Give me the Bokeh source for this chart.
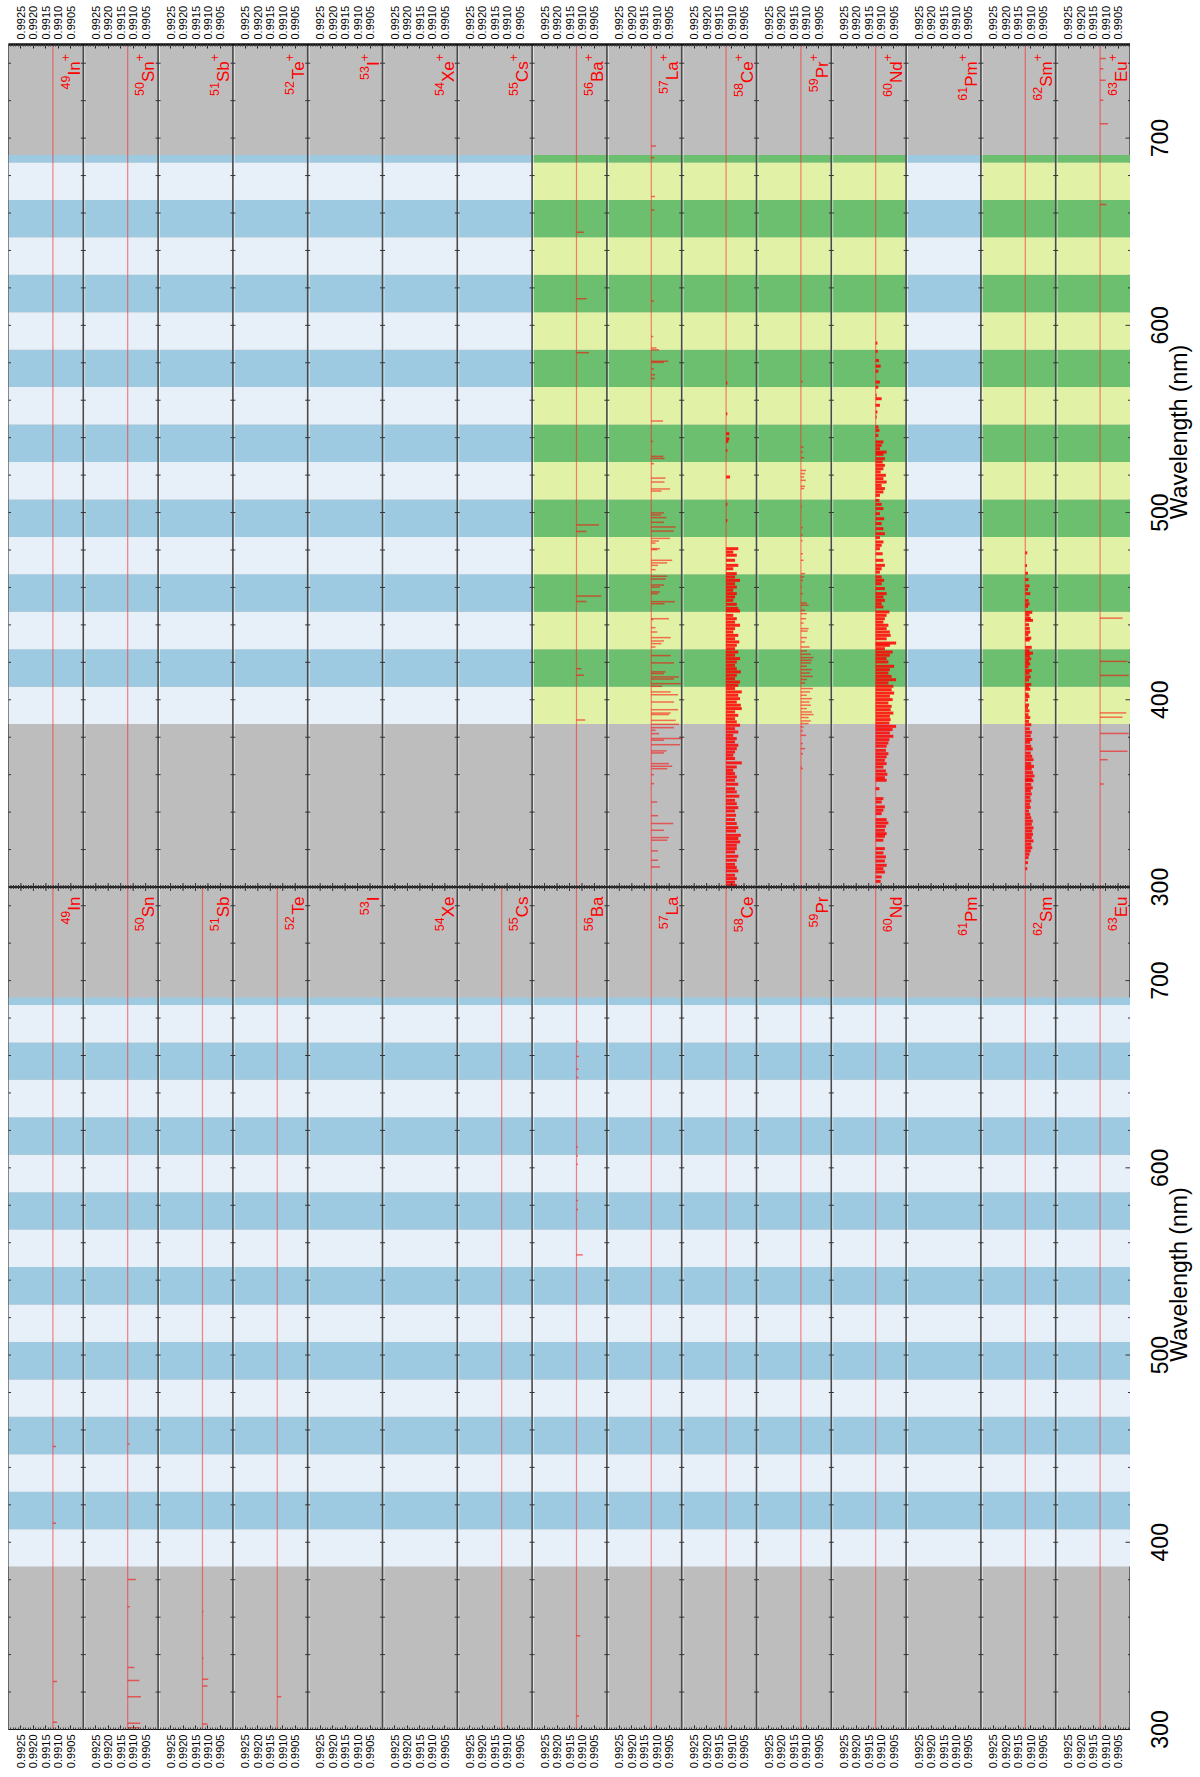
import math
from bokeh.plotting import figure
from bokeh.layouts import row
from bokeh.models import Range1d, FixedTicker, LinearAxis
from bokeh.core.properties import value
from bokeh.embed import file_html
from bokeh.resources import INLINE

FONT = "Liberation Sans"

# ---------------- data ----------------
symbols = ["In", "Sn", "Sb", "Te", "I", "Xe", "Cs", "Ba", "La", "Ce", "Pr", "Nd", "Pm", "Sm", "Eu"]
atomic_numbers = [49, 50, 51, 52, 53, 54, 55, 56, 57, 58, 59, 60, 61, 62, 63]
ion_green = [0, 0, 0, 0, 0, 0, 0, 1, 1, 1, 1, 1, 0, 1, 1]
ion_has_baseline = [1, 1, 0, 0, 0, 0, 0, 1, 1, 1, 1, 1, 0, 1, 1]
neutral_has_baseline = [1, 1, 1, 1, 0, 0, 1, 1, 1, 1, 1, 1, 0, 1, 1]
baseline_value = 0.99122
value_ticks = [0.9925, 0.9920, 0.9915, 0.9910, 0.9905]
value_left, value_right = 0.9930, 0.9900
wavelength_ticks = [300, 400, 500, 600, 700]
wavelength_min, wavelength_max = 300, 750
band_edges = [387, 407, 427, 447, 467, 487, 507, 527, 547, 567, 587, 607, 627, 647, 667, 687, 691]

# spectral lines: (wavelength nm, depth below baseline in units of 1e-4)
in_ion = []
sn_ion = []
ba_ion = [(649.7, 3.0), (614.2, 4.0), (585.4, 5.0), (493.4, 9.0), (489.9, 4.0), (455.4, 10.0),
          (452.5, 4.0), (416.6, 2.0), (413.1, 3.0), (389.2, 3.5)]
la_ion = [(695.8, 1.9), (689.5, 1.2), (668.8, 1.5), (661.6, 1.2), (613.0, 1.1), (594.0, 0.8), (587.9, 2.1),
          (586.9, 3.1), (580.8, 6.8), (580.2, 5.1), (576.7, 1.1), (573.6, 1.5), (571.6, 1.5), (548.9, 4.7),
          (538.0, 0.7), (530.0, 4.8), (528.9, 5.3), (526.1, 1.1), (518.4, 5.7), (516.3, 5.3), (512.6, 7.5),
          (511.5, 4.1), (499.8, 5.1), (498.7, 4.0), (497.3, 6.1), (494.8, 5.1), (492.3, 9.8), (490.1, 9.1),
          (486.2, 7.5), (484.8, 3.1), (483.7, 1.7), (480.7, 3.5), (480.2, 2.4), (474.5, 8.4), (473.1, 6.4),
          (471.8, 2.7), (469.5, 1.7), (466.0, 6.4), (464.5, 5.7), (461.3, 5.1), (460.2, 3.5), (457.6, 3.5),
          (456.7, 2.7), (452.4, 9.5), (451.3, 5.3), (443.3, 7.1), (442.8, 0.8), (438.5, 1.7), (436.2, 2.4),
          (433.2, 7.8), (431.4, 5.1), (430.0, 4.1), (428.2, 1.7), (423.6, 7.8), (419.7, 9.1), (414.9, 5.7),
          (414.0, 5.1), (412.2, 11.1), (411.1, 9.1), (408.6, 11.8), (407.2, 4.4), (404.2, 7.8), (402.7, 10.7),
          (398.8, 9.1), (394.7, 10.7), (392.9, 7.8), (392.1, 7.1), (389.0, 9.8), (386.9, 11.1), (385.1, 9.1),
          (383.7, 1.7), (381.9, 3.1), (379.3, 12.0), (378.4, 5.1), (376.0, 11.5), (372.7, 6.1), (371.6, 5.1),
          (365.9, 7.1), (364.5, 8.4), (363.2, 6.4), (360.0, 1.1), (355.2, 1.1), (345.4, 2.4), (338.1, 2.7),
          (333.9, 8.8), (330.3, 5.1), (326.4, 7.1), (325.0, 6.4), (319.3, 2.7), (314.3, 2.7), (310.7, 3.5)]
ce_ion = [(569.2, 0.5), (552.8, 0.5), (542.1, 1.3), (539.4, 1.3), (538.0, 0.9), (533.2, 0.5), (519.0, 1.6),
          (504.4, 0.5), (495.8, 0.5),
          (480.7, 4.9), (478.9, 2.9), (477.2, 4.3), (474.5, 3.6), (471.8, 4.9), (470.0, 2.9), (467.4, 4.3),
          (465.6, 3.6), (463.8, 5.6), (462.0, 3.6), (460.2, 4.3), (458.5, 2.9), (456.7, 4.3), (454.9, 3.6),
          (453.1, 2.9), (451.0, 4.3), (448.8, 4.9), (447.4, 5.6), (445.1, 2.9), (443.3, 4.3), (441.5, 3.6),
          (439.8, 5.6), (438.0, 3.6), (436.2, 2.9), (434.4, 4.9), (432.6, 3.6), (430.9, 5.3), (429.1, 4.3),
          (427.3, 3.6), (425.5, 4.9), (423.8, 3.6), (422.0, 5.6), (420.2, 4.3), (418.4, 3.6), (416.6, 4.3),
          (414.9, 5.9), (413.1, 4.3), (411.3, 3.6), (409.5, 5.6), (407.7, 4.9), (406.0, 3.6), (404.2, 6.3),
          (402.4, 4.9), (400.6, 5.6), (398.8, 4.3), (397.1, 5.9), (395.3, 6.3), (393.5, 3.6), (391.7, 4.9),
          (389.9, 3.6), (388.2, 4.3), (386.4, 5.6), (384.6, 3.6), (382.8, 4.9), (381.0, 2.9), (379.3, 4.3),
          (377.5, 3.6), (375.7, 4.9), (373.9, 4.3), (372.1, 3.6), (370.4, 2.9), (368.6, 3.6), (366.3, 6.3),
          (364.1, 4.3), (362.3, 2.9), (360.6, 3.6), (358.8, 4.3), (357.0, 3.6), (354.9, 4.9), (352.5, 3.6),
          (350.8, 4.3), (348.5, 5.3), (346.3, 3.6), (344.5, 4.3), (342.4, 4.9), (340.6, 3.6), (338.3, 4.0),
          (336.0, 3.6), (333.9, 4.3), (331.7, 4.9), (329.9, 4.0), (327.6, 5.9), (325.9, 4.9), (324.1, 5.6),
          (322.3, 4.3), (320.5, 4.3), (318.7, 3.6), (316.4, 4.9), (314.3, 4.3), (312.1, 3.6), (310.4, 4.3),
          (308.6, 4.9), (306.3, 3.6), (304.5, 4.3), (302.6, 3.6), (300.9, 4.3)]
pr_ion = [(570.0, 0.8), (535.0, 1.1), (532.3, 0.8), (529.3, 1.3), (522.5, 2.1), (520.8, 1.7), (519.0, 1.3),
          (517.2, 2.0), (514.0, 1.7), (512.8, 1.3), (503.3, 0.4), (492.0, 0.7), (488.0, 0.7), (485.0, 0.7),
          (478.0, 0.8), (474.5, 1.1), (467.4, 1.7), (465.6, 1.3), (463.8, 0.8), (460.2, 0.4), (456.7, 0.8),
          (451.7, 2.4), (450.5, 3.1), (447.8, 1.7), (446.0, 2.4), (443.3, 2.1), (441.0, 1.1), (438.0, 3.1),
          (436.7, 2.7), (433.2, 2.4), (430.9, 1.7), (428.2, 3.5), (426.1, 2.4), (424.3, 4.0), (422.5, 5.1),
          (421.1, 4.4), (419.7, 4.0), (417.9, 2.4), (416.1, 4.4), (414.3, 3.7), (412.5, 4.8), (410.8, 2.4),
          (409.0, 1.7), (406.0, 4.8), (404.2, 3.7), (402.4, 2.4), (400.6, 4.4), (398.8, 3.5), (397.1, 4.0),
          (395.3, 2.4), (393.5, 4.4), (392.1, 5.1), (390.5, 3.1), (388.7, 4.0), (387.3, 3.1), (385.5, 1.1),
          (383.4, 0.8), (381.0, 2.1), (376.6, 0.8), (373.9, 1.7), (371.2, 0.8), (364.1, 0.4), (363.2, 0.8)]
nd_ion = [(590.5, 0.7), (586.1, 0.8), (581.2, 1.3), (578.2, 2.0), (575.5, 1.1),
          (569.7, 1.7), (567.0, 1.1), (562.6, 0.4), (560.8, 2.4), (557.3, 1.7), (553.7, 0.7), (551.0, 0.4),
          (545.7, 1.1), (543.9, 1.5), (541.2, 1.1), (537.7, 3.1), (535.9, 2.4), (534.1, 1.7), (532.3, 4.4),
          (531.1, 3.1), (528.8, 3.7), (527.0, 2.8), (525.2, 3.7), (523.4, 3.1), (521.7, 2.0), (519.9, 4.1),
          (518.1, 3.1), (516.3, 4.4), (514.5, 2.4), (512.8, 3.7), (511.0, 3.1), (509.2, 1.7), (506.5, 1.5),
          (504.4, 2.4), (502.1, 3.1), (499.4, 1.7), (496.7, 3.4), (494.1, 2.4), (491.4, 3.1), (488.7, 3.7),
          (486.6, 1.7), (484.3, 3.1), (482.5, 2.4), (480.7, 1.7), (478.0, 2.8), (474.5, 3.1), (471.8, 3.7),
          (470.0, 2.4), (468.2, 1.7), (465.6, 2.4), (463.8, 3.4), (462.0, 2.4), (459.4, 3.7), (456.7, 4.4),
          (454.9, 3.1), (453.1, 3.7), (451.3, 2.4), (449.6, 3.1), (446.9, 5.5), (445.1, 4.4), (443.3, 3.7),
          (441.5, 3.1), (439.8, 5.1), (438.0, 4.4), (436.2, 5.7), (434.4, 6.0), (432.6, 4.4), (430.3, 8.2),
          (429.1, 5.7), (427.3, 3.7), (425.5, 6.8), (423.8, 5.7), (422.0, 4.4), (420.2, 5.1), (417.9, 7.4),
          (416.1, 5.7), (414.3, 5.1), (412.5, 6.4), (410.7, 8.2), (409.0, 5.1), (407.2, 7.1), (405.4, 6.4),
          (403.6, 7.4), (401.9, 5.7), (400.1, 6.8), (398.3, 5.1), (396.5, 6.4), (394.7, 6.0), (392.9, 7.1),
          (391.2, 5.7), (389.4, 6.0), (387.6, 5.5), (385.8, 8.2), (384.1, 6.8), (382.3, 5.7), (380.5, 7.1),
          (378.7, 5.5), (376.9, 5.1), (375.2, 4.4), (373.0, 4.1), (371.2, 5.1), (369.5, 4.4), (367.7, 3.7),
          (365.9, 4.4), (364.1, 3.1), (362.0, 4.1), (360.2, 4.7), (358.4, 3.7), (357.0, 4.4), (352.5, 1.5),
          (347.2, 3.1), (345.4, 2.4), (342.8, 3.7), (341.0, 3.1), (339.2, 2.4), (336.0, 4.4), (334.2, 5.1),
          (332.4, 4.1), (330.3, 3.7), (328.5, 4.4), (327.1, 3.7), (325.0, 3.1), (320.5, 3.7), (318.2, 3.1),
          (316.1, 4.1), (313.9, 3.7), (311.6, 4.4), (309.8, 3.1), (308.0, 3.7), (305.4, 2.4), (303.0, 2.0)]
sm_ion = [(478.5, 0.8), (471.7, 0.7), (467.6, 1.1), (464.2, 1.3), (460.8, 1.7), (458.9, 1.1), (456.7, 2.0),
          (453.0, 1.3), (451.2, 1.7), (449.9, 1.1), (446.7, 2.8), (445.2, 1.7), (443.4, 2.2), (442.4, 3.1),
          (440.1, 1.5), (438.1, 1.8), (436.2, 2.0), (434.8, 1.3), (432.9, 2.4), (431.9, 1.8), (428.0, 2.6),
          (426.2, 1.7), (424.9, 3.1), (423.6, 1.8), (421.9, 2.4), (420.4, 1.5), (419.1, 2.0), (417.6, 1.3),
          (415.6, 2.6), (414.2, 1.7), (412.2, 2.2), (410.6, 1.5), (408.2, 2.4), (406.8, 1.5), (405.6, 2.0),
          (403.0, 1.3), (401.7, 1.7), (399.9, 1.1), (397.2, 1.5), (395.8, 1.1), (394.1, 1.7), (392.0, 1.3),
          (390.5, 2.0), (388.5, 1.5), (386.7, 2.4), (384.5, 1.8), (382.6, 2.6), (380.7, 2.2), (378.8, 2.8),
          (377.3, 2.0), (375.2, 2.4), (373.7, 3.0), (371.5, 2.2), (369.8, 2.8), (368.0, 3.3), (366.0, 2.4),
          (364.4, 3.5), (363.0, 2.6), (361.1, 3.1), (359.3, 3.7), (357.6, 2.8), (356.8, 3.3), (354.8, 2.4),
          (353.0, 3.0), (351.5, 2.2), (349.7, 2.6), (347.9, 2.0), (346.0, 2.4), (344.2, 1.8), (342.5, 2.2),
          (340.6, 1.5), (338.8, 2.0), (337.0, 2.4), (335.2, 3.0), (333.5, 2.6), (331.6, 3.3), (329.9, 2.8),
          (328.1, 3.1), (326.4, 2.6), (324.6, 3.3), (322.8, 2.4), (321.0, 2.8), (319.3, 2.2), (317.5, 1.7),
          (315.7, 1.3), (313.0, 1.1), (309.8, 0.8)]
eu_ion = [(742.5, 2.3), (737.0, 1.3), (730.9, 2.3), (720.2, 1.3), (707.7, 3.2), (664.5, 2.5), (443.6, 9.0),
          (420.5, 11.0), (413.0, 11.5), (393.0, 10.5), (390.7, 9.0), (382.0, 11.5), (372.5, 11.0),
          (368.0, 3.0), (355.0, 1.5)]

in_neutral = [(451.1, 1.3), (410.2, 1.3), (325.6, 1.7), (303.9, 1.7)]
sn_neutral = [(452.5, 0.8), (380.1, 3.3), (365.5, 0.8), (333.1, 2.7), (326.2, 4.7), (317.5, 5.3),
              (303.4, 5.1), (300.9, 4.7)]
sb_neutral = [(363.0, 0.4), (338.0, 0.4), (326.8, 2.3), (323.3, 2.0), (302.9, 2.0)]
te_neutral = [(317.5, 1.6)]
ba_neutral = [(667.5, 0.8), (659.5, 1.0), (652.7, 0.8), (648.3, 0.8), (611.1, 0.6), (606.3, 0.6),
              (601.9, 0.6), (582.6, 0.6), (577.8, 0.6), (553.5, 2.5), (350.1, 1.5), (307.2, 1.0)]

ion_lines = {"In": in_ion, "Sn": sn_ion, "Ba": ba_ion, "La": la_ion, "Ce": ce_ion, "Pr": pr_ion,
             "Nd": nd_ion, "Sm": sm_ion, "Eu": eu_ion}
neutral_lines = {"In": in_neutral, "Sn": sn_neutral, "Sb": sb_neutral, "Te": te_neutral, "Ba": ba_neutral}
dense = {"Ce", "Nd", "Sm"}

# ---------------- layout constants ----------------
UNIT = 0.0001
COL = round((value_left - value_right) / UNIT)          # 30 units per column
NCOL = len(symbols)
SPAN = wavelength_max - wavelength_min                   # 450 nm per panel
FRAME_W, FRAME_H = 1122, 1685
BORDER_L, BORDER_T, BORDER_B = 8, 44, 44
SIDE_W, SIDE_AXIS = 68, 34
PX_PER_UNIT = FRAME_W / (NCOL * COL)
PX_PER_NM = FRAME_H / (2 * SPAN)
ION_OFF = SPAN
Y0, Y1 = wavelength_min, wavelength_max + SPAN

def xv(c, v):
    return round(c * COL + (value_left - v) / UNIT, 4)

yr = Range1d(Y0, Y1)
p = figure(width=FRAME_W + BORDER_L, height=FRAME_H + BORDER_T + BORDER_B,
           x_range=Range1d(0, NCOL * COL), y_range=yr,
           output_backend="svg", toolbar_location=None, y_axis_location=None,
           min_border_left=BORDER_L, min_border_right=0, min_border_top=BORDER_T,
           min_border_bottom=BORDER_B)
p.background_fill_color = "#bdbdbd"
p.border_fill_color = "white"
p.outline_line_color = "#666666"
p.xgrid.visible = False
p.ygrid.visible = False

# bands
colors = {"blue": ("#e7eff9", "#9ecae1"), "green": ("#e1f2a6", "#6cbf6e")}
ql, qr, qb, qt, qc = [], [], [], [], []
for off, greens in [(0, [0] * NCOL), (ION_OFF, ion_green)]:
    for c in range(NCOL):
        pal = colors["green" if greens[c] else "blue"]
        for i in range(len(band_edges) - 1):
            ql.append(c * COL); qr.append((c + 1) * COL)
            qb.append(band_edges[i] + off); qt.append(band_edges[i + 1] + off)
            qc.append(pal[i % 2])
p.quad(left=ql, right=qr, bottom=qb, top=qt, fill_color=qc, line_color=None)

# column separators (dark line with a thin light edge) and their wavelength ticks
sep_x = [c * COL for c in range(1, NCOL)]
p.segment(x0=[x + 0.55 for x in sep_x], y0=[Y0] * len(sep_x), x1=[x + 0.55 for x in sep_x],
          y1=[Y1] * len(sep_x), line_color="white", line_alpha=0.6, line_width=1)
p.segment(x0=sep_x, y0=[Y0] * len(sep_x), x1=sep_x, y1=[Y1] * len(sep_x),
          line_color="#4a4a4a", line_width=1.6)
tx0, tx1, ty = [], [], []
for c in range(NCOL + 1):
    for off in (0, ION_OFF):
        for w in range(wavelength_min + 20, wavelength_max, 20):
            long_tick = (c == NCOL and w % 100 == 0)
            tx0.append(c * COL - (2.0 if long_tick else 1.0)); tx1.append(c * COL + 1.0)
            ty.append(w + off)
p.segment(x0=tx0, y0=ty, x1=tx1, y1=ty, line_color="#333333", line_width=1)

# baselines
bx, by0, by1 = [], [], []
for off, flags in [(0, neutral_has_baseline), (ION_OFF, ion_has_baseline)]:
    for c in range(NCOL):
        if flags[c]:
            bx.append(xv(c, baseline_value)); by0.append(wavelength_min + off); by1.append(wavelength_max + off)
p.segment(x0=bx, y0=by0, x1=bx, y1=by1, line_color="#ff2020", line_alpha=0.55, line_width=1.2)

# spectral lines
lx0, lx1, ly, lw, la = [], [], [], [], []
for off, table in [(0, neutral_lines), (ION_OFF, ion_lines)]:
    for sym, lines in table.items():
        c = symbols.index(sym)
        x0 = xv(c, baseline_value)
        for wl, d in lines:
            lx0.append(x0); lx1.append(xv(c, baseline_value - d * 1e-4)); ly.append(wl + off)
            lw.append(3.0 if sym in dense else 1.5)
            la.append(0.85 if sym in dense else 0.55)
p.segment(x0=lx0, y0=ly, x1=lx1, y1=ly, line_color="#ff0000", line_alpha=la, line_width=lw)

# middle axis line with ticks
mid = wavelength_max
p.segment(x0=[0], y0=[mid], x1=[NCOL * COL], y1=[mid], line_color="#222222", line_width=2)
major_x = [xv(c, v) for c in range(NCOL) for v in value_ticks]
minor_x = [c * COL + k for c in range(NCOL) for k in range(1, COL)]
mt = 2.0 / PX_PER_NM
Mt = 4.0 / PX_PER_NM
p.segment(x0=minor_x, y0=[mid - mt] * len(minor_x), x1=minor_x, y1=[mid + mt] * len(minor_x),
          line_color="#333333", line_width=1)
p.segment(x0=major_x, y0=[mid - Mt] * len(major_x), x1=major_x, y1=[mid + Mt] * len(major_x),
          line_color="#333333", line_width=1)

# value axes (top and bottom)
overrides = {xv(c, v): f"{v:.4f}" for c in range(NCOL) for v in value_ticks}

def style_value_axis(ax, line_w):
    ax.ticker = FixedTicker(ticks=major_x, minor_ticks=minor_x)
    ax.major_label_overrides = overrides
    ax.major_label_orientation = math.pi / 2
    ax.major_label_text_font = FONT
    ax.major_label_text_font_size = "11px"
    ax.major_label_text_color = "black"
    ax.major_label_standoff = 5
    ax.major_tick_in = 4
    ax.major_tick_out = 0
    ax.minor_tick_in = 2
    ax.minor_tick_out = 0
    ax.major_tick_line_color = "#222222"
    ax.minor_tick_line_color = "#444444"
    ax.axis_line_width = line_w
    ax.axis_line_color = "#111111"

style_value_axis(p.xaxis[0], 1)
top_axis = LinearAxis()
style_value_axis(top_axis, 2.5)
p.add_layout(top_axis, "above")

# element labels
char_w = {"0": .556, "1": .556, "2": .556, "3": .556, "4": .556, "5": .556, "6": .556, "7": .556,
          "8": .556, "9": .556, "+": .584, "I": .278, "n": .556, "S": .667, "b": .556, "T": .611,
          "e": .556, "X": .667, "C": .722, "s": .5, "B": .667, "a": .556, "L": .556, "P": .667,
          "r": .333, "N": .722, "d": .556, "m": .833, "E": .667, "u": .556}

def text_nm(t, size):
    return sum(char_w.get(ch, 0.6) for ch in t) * size / PX_PER_NM

SYM_PX, SUP_PX = 17, 12.5
LABEL_X = 65.5 / PX_PER_UNIT
px_, py_, sx_, sy_, st_, nx_, ny_, nt_ = [], [], [], [], [], [], [], []
for off, ion in [(0, False), (ION_OFF, True)]:
    for c, (s, z) in enumerate(zip(symbols, atomic_numbers)):
        x = c * COL + LABEL_X
        y = wavelength_max + off - 9.5 / PX_PER_NM
        if ion:
            px_.append(x); py_.append(y)
            y -= text_nm("+", SUP_PX)
        sx_.append(x); sy_.append(y); st_.append(s)
        y -= text_nm(s, SYM_PX)
        nx_.append(x); ny_.append(y); nt_.append(str(z))

common = dict(angle=math.pi / 2, text_align="right", text_baseline="alphabetic",
              text_font=value(FONT), text_color="#ff0000")
p.text(x=sx_, y=sy_, text=st_, text_font_size=f"{SYM_PX}px", **common)
p.text(x=nx_, y=ny_, text=nt_, text_font_size=f"{SUP_PX}px", x_offset=-9, **common)
p.text(x=px_, y=py_, text=["+"] * len(px_), text_font_size=f"{SUP_PX}px", x_offset=-9, **common)

# wavelength scale: a narrow strip whose left axis carries the tick labels.
# The axis draws rotated labels ending at the tick, so the tick is moved up by half
# a label length to centre each label on its wavelength.
WL_FONT_PX = 23
half_label_nm = text_nm("300", WL_FONT_PX) / 2
wl_label_pos = {round(w + off + half_label_nm, 4): str(w) for off in (0, ION_OFF) for w in wavelength_ticks}
side = figure(width=SIDE_W, height=FRAME_H + BORDER_T + BORDER_B, x_range=Range1d(SIDE_AXIS, SIDE_W),
              y_range=yr, output_backend="svg", toolbar_location=None, x_axis_location=None,
              y_axis_location="left", title=None,
              min_border_left=SIDE_AXIS, min_border_right=0, min_border_top=BORDER_T,
              min_border_bottom=BORDER_B)
side.outline_line_color = None
side.background_fill_color = "white"
side.border_fill_color = "white"
side.xgrid.visible = False
side.ygrid.visible = False
wa = side.yaxis[0]
wa.ticker = FixedTicker(ticks=list(wl_label_pos.keys()), minor_ticks=[])
wa.major_label_overrides = wl_label_pos
wa.major_label_orientation = math.pi / 2
wa.major_label_text_font = FONT
wa.major_label_text_font_size = f"{WL_FONT_PX}px"
wa.major_label_text_color = "black"
wa.major_label_standoff = 5
wa.major_tick_in = 0
wa.major_tick_out = 0
wa.minor_tick_in = 0
wa.minor_tick_out = 0
wa.axis_line_color = None
side.text(x=[48, 48], y=[543, 543 + ION_OFF], text=["Wavelength (nm)"] * 2, angle=math.pi / 2,
          text_align="center", text_baseline="middle", text_font=value(FONT),
          text_font_size=f"{WL_FONT_PX}px", text_color="black")

layout = row(p, side)
open("out.html", "w").write(file_html(layout, INLINE))
